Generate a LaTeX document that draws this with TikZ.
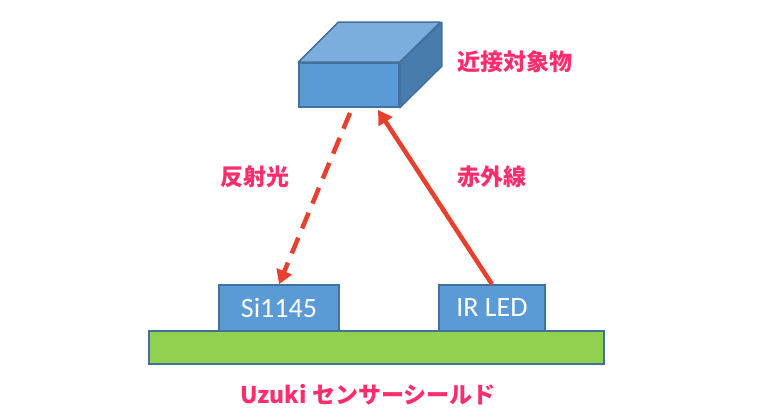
\documentclass[tikz,border=0pt]{standalone}
\usepackage{fontspec}
\setmainfont{Carlito}
\newfontfamily\jp{Noto Sans CJK JP}
\usetikzlibrary{arrows.meta}
\definecolor{boxblue}{HTML}{5B9BD5}
\definecolor{topblue}{HTML}{7BAEDD}
\definecolor{sideblue}{HTML}{487CAD}
\definecolor{edgeblue}{HTML}{41719C}
\definecolor{boardgreen}{HTML}{92D050}
\definecolor{rayred}{HTML}{E8402F}
\definecolor{labelpink}{HTML}{FF2D6B}
\begin{document}
\begin{tikzpicture}[x=1pt,y=-1pt,
  part/.style={draw=edgeblue,line width=1.5pt,fill=boxblue,text=white,font=\fontsize{28}{30}\selectfont,inner sep=0pt},
  pinklabel/.style={text=labelpink,font=\jp\bfseries\fontsize{23}{25}\selectfont},
  ray/.style={draw=rayred,line width=4.5pt,-{Triangle[length=14pt,width=16pt]}}]
\useasboundingbox (0,0) rectangle (774,419);
\node[draw=edgeblue,line width=1.5pt,fill=boardgreen,minimum width=455pt,minimum height=33pt,inner sep=0pt] (board) at (376.5,347.5) {};
\node[part,minimum width=120pt,minimum height=46pt] (si) at (279,308) {Si1145};
\node[part,minimum width=106pt,minimum height=46pt] (led) at (492,308) {IR LED};
\node[part,minimum width=100pt,minimum height=44pt] (obj) at (349,85) {};
\draw[edgeblue,line width=1.5pt,fill=topblue,line join=round] (obj.north west) -- ++(40,-40) -- ++(102,0) -- (obj.north east) -- cycle;
\draw[edgeblue,line width=1.5pt,fill=sideblue,line join=round] (obj.north east) -- ++(42,-40) -- ++(0,44) -- (obj.south east) -- cycle;
\node[pinklabel] (objlabel) at (515,62) {近接対象物};
\node[pinklabel] (refl) at (255,177) {反射光};
\node[pinklabel] (irlabel) at (492,177) {赤外線};
\node[pinklabel] (shield) at (368,395) {Uzuki センサーシールド};
\coordinate (rstart) at (350,113);
\coordinate (itip) at (378,110);
\draw[ray,dash pattern=on 17pt off 10pt] (rstart) -- (si.north);
\draw[ray] (led.north) -- (itip);
\end{tikzpicture}
\end{document}
